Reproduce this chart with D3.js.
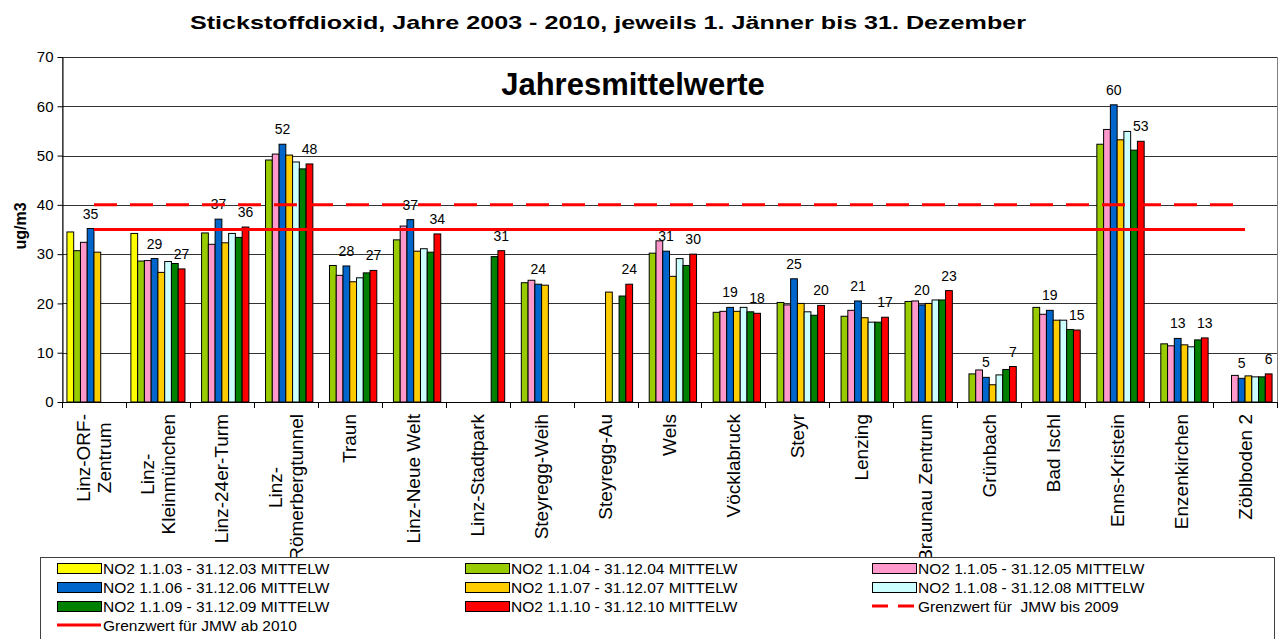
<!DOCTYPE html>
<html>
<head>
<meta charset="utf-8">
<script src="https://cdn.jsdelivr.net/npm/d3@7"></script>
<style>
  body { margin: 0; background: #fff; }
  svg { display: block; font-family: Arial, "Liberation Sans", sans-serif; }
</style>
</head>
<body>
<div id="app"></div>
<script>
// stations (x categories), "\n" marks a line break in the axis label
const categories = [
  "Linz-ORF-\nZentrum", "Linz-\nKleinmünchen", "Linz-24er-Turm", "Linz-\nRömerbergtunnel",
  "Traun", "Linz-Neue Welt", "Linz-Stadtpark", "Steyregg-Weih", "Steyregg-Au", "Wels",
  "Vöcklabruck", "Steyr", "Lenzing", "Braunau Zentrum", "Grünbach", "Bad Ischl",
  "Enns-Kristein", "Enzenkirchen", "Zöblboden 2"
];

const seriesNames = [
  "NO2 1.1.03 - 31.12.03 MITTELW", "NO2 1.1.04 - 31.12.04 MITTELW", "NO2 1.1.05 - 31.12.05 MITTELW",
  "NO2 1.1.06 - 31.12.06 MITTELW", "NO2 1.1.07 - 31.12.07 MITTELW", "NO2 1.1.08 - 31.12.08 MITTELW",
  "NO2 1.1.09 - 31.12.09 MITTELW", "NO2 1.1.10 - 31.12.10 MITTELW"
];
const seriesColors = ["#FFFF00", "#99CC00", "#FF99CC", "#0066CC", "#FFCC00", "#CCFFFF", "#008000", "#FF0000"];

// annual means in ug/m3, null = no measurement
const no2_2003 = [34.5, 34.2, null, null, null, null, null, null, null, null, null, null, null, null, null, null, null, null, null];
const no2_2004 = [30.7, 28.6, 34.3, 49.1, 27.7, 32.9, null, 24.2, null, 30.2, 18.2, 20.2, 17.4, 20.4, 5.7, 19.2, 52.3, 11.8, null];
const no2_2005 = [32.4, 28.7, 32.0, 50.3, 25.7, 35.7, null, 24.7, null, 32.7, 18.4, 19.7, 18.6, 20.5, 6.5, 17.8, 55.3, 11.4, 5.4];
const no2_2006 = [35.2, 29.1, 37.1, 52.3, 27.6, 37.0, null, 23.9, null, 30.6, 19.2, 25.0, 20.5, 19.7, 5.0, 18.6, 60.3, 12.9, 4.8];
const no2_2007 = [30.4, 26.3, 32.3, 50.1, 24.4, 30.6, null, 23.7, 22.3, 25.5, 18.4, 20.0, 17.1, 20.0, 3.5, 16.6, 53.2, 11.6, 5.3];
const no2_2008 = [null, 28.5, 34.2, 48.7, 25.2, 31.1, null, null, null, 29.1, 19.2, 18.3, 16.2, 20.7, 5.5, 16.6, 54.9, 11.2, 5.1];
const no2_2009 = [null, 28.1, 33.4, 47.3, 26.2, 30.4, 29.5, null, 21.5, 27.7, 18.3, 17.6, 16.2, 20.7, 6.6, 14.7, 51.1, 12.6, 5.1];
const no2_2010 = [null, 27.0, 35.5, 48.3, 26.7, 34.1, 30.7, null, 23.9, 30.0, 18.0, 19.6, 17.2, 22.6, 7.2, 14.6, 52.9, 13.0, 5.7];
const seriesValues = [no2_2003, no2_2004, no2_2005, no2_2006, no2_2007, no2_2008, no2_2009, no2_2010];

// only 2006 and 2010 carry value labels
const labelledSeries = [3, 7];

const yTicks = [0, 10, 20, 30, 40, 50, 60, 70];

// limit values
const limitTo2009 = 40;
const limitFrom2010 = 35;
const limitNames = ["Grenzwert für  JMW bis 2009", "Grenzwert für JMW ab 2010"];

const width = 1278, height = 639;
const plotLeft = 62, plotRight = 1277, plotTop = 57, plotBottom = 402;

const x = d3.scaleBand().domain(categories).range([plotLeft, plotRight]);
const xs = d3.scaleBand().domain(d3.range(seriesNames.length)).range([0, x.bandwidth()]).paddingOuter(0.73);
const y = d3.scaleLinear().domain([0, 70]).range([plotBottom, plotTop]);

const svg = d3.select("#app").append("svg")
    .attr("width", width)
    .attr("height", height)
    .attr("viewBox", [0, 0, width, height]);

svg.append("rect").attr("width", width).attr("height", height).attr("fill", "#fff");

// title (the original is rendered wide, so stretch it to its length)
svg.append("text")
    .attr("x", 608).attr("y", 29)
    .attr("text-anchor", "middle")
    .attr("font-size", 19).attr("font-weight", "bold")
    .attr("textLength", 836).attr("lengthAdjust", "spacingAndGlyphs")
    .text("Stickstoffdioxid, Jahre 2003 - 2010, jeweils 1. Jänner bis 31. Dezember");

// plot frame + gridlines
svg.append("rect")
    .attr("x", plotLeft + 0.5).attr("y", Math.round(y(70)) + 0.5)
    .attr("width", plotRight - plotLeft).attr("height", plotBottom - Math.round(y(70)))
    .attr("fill", "none").attr("stroke", "#808080");

svg.append("g")
  .selectAll("line")
  .data(yTicks.slice(1))
  .join("line")
    .attr("x1", plotLeft).attr("x2", plotRight)
    .attr("y1", d => Math.round(y(d)) + 0.5).attr("y2", d => Math.round(y(d)) + 0.5)
    .attr("stroke", "#333");

svg.append("text")
    .attr("x", 633).attr("y", 95)
    .attr("text-anchor", "middle")
    .attr("font-size", 31).attr("font-weight", "bold")
    .text("Jahresmittelwerte");

// bars
const groups = svg.append("g")
  .selectAll("g")
  .data(seriesValues)
  .join("g")
    .attr("fill", (d, s) => seriesColors[s]);

groups.selectAll("rect")
  .data((vals, s) => vals.map((v, i) => ({s, i, v})).filter(d => d.v != null))
  .join("rect")
    .attr("x", d => x(categories[d.i]) + xs(d.s))
    .attr("y", d => y(d.v))
    .attr("width", xs.bandwidth())
    .attr("height", d => y(0) - y(d.v))
    .attr("stroke", "#000")
    .attr("stroke-width", 1);

// value labels
svg.append("g")
    .attr("font-size", 14)
    .attr("text-anchor", "middle")
  .selectAll("text")
  .data(labelledSeries.flatMap(s => seriesValues[s].map((v, i) => ({s, i, v})).filter(d => d.v != null)))
  .join("text")
    .attr("x", d => x(categories[d.i]) + xs(d.s) + xs.bandwidth() / 2)
    .attr("y", d => y(d.v) - 10)
    .text(d => Math.round(d.v));

// limit lines, drawn from first to last station centre
const line = d3.line()
    .x(d => x(d[0]) + x.bandwidth() / 2)
    .y(d => y(d[1]));
const ends = [categories[0], categories[categories.length - 1]];

svg.append("path")
    .attr("d", line(ends.map(c => [c, limitTo2009])))
    .attr("fill", "none").attr("stroke", "#FF0000").attr("stroke-width", 3)
    .attr("stroke-dasharray", "23,13");
svg.append("path")
    .attr("d", line(ends.map(c => [c, limitFrom2010])))
    .attr("fill", "none").attr("stroke", "#FF0000").attr("stroke-width", 3);

// y axis
svg.append("g")
    .attr("transform", `translate(${plotLeft + 0.5},0)`)
    .call(d3.axisLeft(y).tickValues(yTicks).tickSize(5).tickSizeOuter(0).tickPadding(4))
    .call(g => g.selectAll("text").attr("font-size", 15).attr("font-family", null).attr("fill", "#000"))
    .call(g => g.selectAll("line, path").attr("stroke", "#000"));

svg.append("text")
    .attr("transform", "translate(26,226) rotate(-90)")
    .attr("text-anchor", "middle")
    .attr("font-size", 16).attr("font-weight", "bold")
    .text("ug/m3");

// x axis with ticks on the category boundaries
const xAxis = svg.append("g");
xAxis.append("line")
    .attr("x1", plotLeft).attr("x2", plotRight)
    .attr("y1", plotBottom + 0.5).attr("y2", plotBottom + 0.5)
    .attr("stroke", "#000");
xAxis.selectAll(".tick")
  .data(categories.map(c => x(c)).concat([plotRight]))
  .join("line")
    .attr("x1", d => Math.round(d) + 0.5).attr("x2", d => Math.round(d) + 0.5)
    .attr("y1", plotBottom).attr("y2", plotBottom + 6)
    .attr("stroke", "#000");

const labelTop = 414, lineGap = 21.5;
const labels = xAxis.selectAll(".lab")
  .data(categories)
  .join("g")
    .attr("transform", c => `translate(${x(c) + x.bandwidth() / 2},${labelTop}) rotate(-90)`)
    .attr("font-size", 19);

labels.each(function(c) {
  const g = d3.select(this);
  const parts = c.split("\n");
  const texts = parts.map((p, i) => g.append("text")
      .attr("text-anchor", "middle")
      .attr("y", 6.5 + (i - (parts.length - 1) / 2) * lineGap)
      .text(p));
  const maxLen = d3.max(texts, t => t.node().getComputedTextLength());
  texts.forEach(t => t.attr("x", -maxLen / 2));
});

// legend
const legend = svg.append("g");
legend.append("rect")
    .attr("x", 40.5).attr("y", 557.5)
    .attr("width", 1234).attr("height", 100)
    .attr("fill", "#fff").attr("stroke", "#404040");

const legendItems = seriesNames.map((name, s) => ({name, color: seriesColors[s], type: "bar"}))
  .concat([{name: limitNames[0], type: "dash"}, {name: limitNames[1], type: "line"}]);
const colX = [57, 465, 872], rowY = 568, rowGap = 19, swatchW = 44;

const item = legend.selectAll("g")
  .data(legendItems)
  .join("g")
    .attr("transform", (d, i) => `translate(${colX[i % 3]},${rowY + Math.floor(i / 3) * rowGap})`);

item.filter(d => d.type === "bar").append("rect")
    .attr("x", 0.5).attr("y", -4.5)
    .attr("width", swatchW).attr("height", 10)
    .attr("fill", d => d.color).attr("stroke", "#000");

item.filter(d => d.type !== "bar").append("line")
    .attr("x1", 0).attr("x2", swatchW)
    .attr("stroke", "#FF0000").attr("stroke-width", 3)
    .attr("stroke-dasharray", d => d.type === "dash" ? "16,10" : null);

item.append("text")
    .attr("x", swatchW + 2).attr("y", 5.5)
    .attr("font-size", 15.5)
    .attr("xml:space", "preserve")
    .style("white-space", "pre")
    .text(d => d.name);
</script>
</body>
</html>
